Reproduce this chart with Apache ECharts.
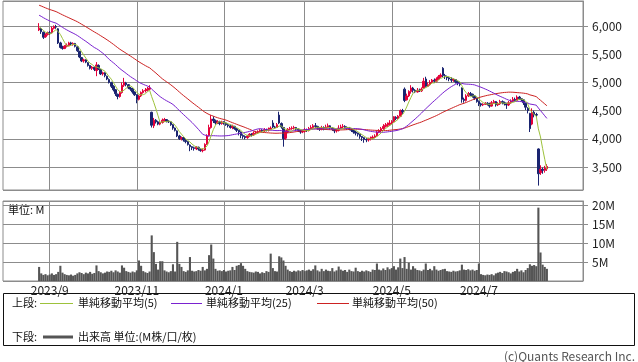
<!DOCTYPE html>
<html><head><meta charset="utf-8">
<script src="https://cdn.jsdelivr.net/npm/echarts@6/dist/echarts.min.js"></script>
<style>html,body{margin:0;padding:0;background:#fff}#c{width:638px;height:362px}</style>
</head><body><div id="c"></div>
<script>
// Japanese market holidays in the displayed span (categories are trading days)
const holidays = ['2023/08/11','2023/09/18','2023/10/09','2023/11/03','2023/11/23','2024/01/01','2024/01/02','2024/01/03','2024/01/08','2024/02/12','2024/02/23','2024/03/20','2024/04/29','2024/05/03','2024/05/06','2024/07/15','2024/08/12'];
const padBefore = 17, padAfter = 17;
const tickLabels = ['2023/9','2023/11','2024/1','2024/3','2024/5','2024/7'];
const priceTicks = [3500,4000,4500,5000,5500,6000];

// closes before the first candle (only feed the moving averages)
const preClose = [6600,6620,6650,6630,6580,6560,6600,6640,6620,6590,6550,6520,6540,6570,6560,6530,6500,6480,6510,6530,6500,6470,6450,6430,6400,
6400,6380,6360,6350,6340,6320,6300,6280,6280,6260,6240,6220,6200,6200,6180,6150,6130,6100,6080,6060,6030,6000,5980,5960];

const open = [5930,5950,5890,5810,5850,5880,5880,5960,5990,5950,
5700,5630,5600,5640,5650,5700,5670,5690,5630,5550,
5440,5380,5400,5350,5300,5250,5270,5210,5300,5230,
5150,5170,5110,5050,5000,4930,4870,4790,4750,4820,
4950,4990,4960,4900,4880,4830,4780,4700,4760,4820,
4850,4860,4880,4470,4230,4330,4300,4260,4290,4330,
4340,4310,4300,4250,4190,4140,4050,4000,4020,3970,
3950,3890,3860,3840,3820,3850,3810,3790,3800,3900,
4060,4200,4350,4320,4280,4300,4270,4300,4280,4250,
4230,4200,4220,4180,4150,4120,4060,4040,4020,4050,
4080,4070,4100,4110,4130,4150,4140,4160,4150,4170,
4280,4210,4200,4420,4270,4200,4010,4120,4170,4180,
4190,4200,4170,4150,4120,4130,4160,4150,4180,4200,
4230,4220,4190,4170,4200,4180,4210,4230,4190,4170,
4140,4150,4190,4210,4220,4200,4190,4180,4150,4120,
4100,4080,4040,4020,3990,3980,4000,4010,4030,4050,
4120,4140,4180,4220,4240,4250,4280,4300,4380,4360,
4400,4500,4880,4690,4760,4840,4900,4860,4830,4860,
4850,4900,5060,4930,4960,5000,5040,5020,5060,5100,
5250,5120,5100,5080,5060,5040,5050,5010,4990,4900,
4700,4680,4760,4800,4790,4760,4720,4660,4620,4600,
4610,4630,4620,4580,4640,4660,4600,4620,4660,4640,
4620,4600,4640,4670,4700,4680,4740,4710,4690,4630,
4540,4450,4260,4470,4430,3820,3400,3460,3440,3470];

const close = [5960,5900,5800,5840,5880,5870,5960,5990,5980,5700,
5620,5600,5640,5660,5700,5680,5690,5640,5560,5450,
5380,5400,5360,5300,5250,5270,5230,5310,5240,5150,
5170,5120,5060,5000,4930,4870,4800,4750,4820,4950,
5000,4960,4900,4880,4830,4780,4700,4760,4820,4850,
4860,4880,4900,4240,4330,4300,4260,4290,4330,4340,
4310,4300,4250,4190,4150,4050,4000,4020,3980,3950,
3900,3860,3840,3830,3850,3820,3790,3800,3900,4050,
4200,4350,4320,4280,4300,4270,4300,4280,4250,4230,
4200,4220,4180,4150,4120,4060,4040,4020,4050,4080,
4070,4100,4110,4130,4150,4140,4160,4150,4170,4190,
4210,4200,4250,4280,4210,4000,4120,4170,4180,4190,
4200,4170,4150,4120,4130,4160,4150,4180,4200,4230,
4220,4190,4170,4200,4180,4210,4230,4190,4170,4140,
4150,4190,4210,4220,4200,4190,4180,4150,4120,4100,
4080,4040,4020,3990,3980,4000,4010,4030,4050,4120,
4140,4180,4220,4240,4250,4280,4300,4390,4360,4400,
4500,4480,4680,4760,4840,4900,4860,4830,4860,4850,
4880,5020,4930,4960,5000,5040,5020,5060,5100,5130,
5120,5100,5080,5060,5040,5050,5010,4990,4960,4700,
4680,4760,4800,4790,4760,4720,4660,4620,4600,4610,
4630,4620,4580,4640,4660,4600,4620,4660,4640,4620,
4600,4640,4670,4700,4680,4740,4710,4690,4640,4560,
4500,4180,4470,4430,4420,3380,3460,3440,3480,3510];

const low = [5910,5860,5770,5790,5830,5840,5870,5940,5950,5680,
5600,5580,5590,5620,5640,5660,5650,5620,5540,5430,
5360,5350,5340,5280,5230,5220,5200,5110,5220,5130,
5120,5090,5040,4980,4900,4840,4760,4700,4730,4800,
4920,4930,4880,4850,4800,4760,4630,4680,4740,4800,
4820,4840,4860,4200,4190,4270,4240,4240,4270,4300,
4290,4280,4230,4160,4130,4030,3980,3970,3950,3920,
3880,3780,3800,3790,3800,3790,3770,3760,3790,3890,
4040,4180,4280,4250,4260,4240,4250,4250,4230,4200,
4180,4170,4160,4120,4060,4010,4000,3990,4000,4030,
4040,4050,4080,4090,4110,4120,4120,4130,4130,4150,
4190,4180,4190,4260,4180,3860,3980,4100,4150,4160,
4170,4140,4120,4090,4100,4110,4120,4130,4160,4180,
4190,4160,4140,4150,4150,4160,4190,4160,4140,4100,
4110,4130,4170,4190,4170,4160,4150,4120,4090,4060,
4040,4000,3960,3930,3940,3950,3970,3990,4010,4040,
4100,4120,4160,4200,4210,4230,4260,4290,4330,4340,
4390,4440,4650,4680,4740,4800,4820,4810,4820,4830,
4830,4890,4910,4920,4940,4980,4990,5000,5040,5080,
5090,5060,5040,5020,5000,5010,4980,4950,4930,4640,
4640,4660,4740,4760,4730,4690,4640,4580,4570,4580,
4600,4590,4550,4570,4620,4570,4580,4600,4610,4590,
4530,4580,4620,4650,4660,4670,4690,4660,4600,4510,
4450,4120,4240,4380,4390,3170,3360,3380,3400,3430];

const high = [6050,5970,5900,5870,5900,5910,5990,6010,6020,5960,
5720,5650,5660,5690,5720,5720,5710,5700,5640,5560,
5450,5420,5410,5360,5310,5290,5280,5360,5320,5240,
5190,5180,5120,5070,5010,4950,4880,4800,4850,5000,
5080,5010,4970,4920,4900,4840,4790,4780,4840,4880,
4900,4920,4950,4480,4370,4350,4320,4310,4360,4370,
4350,4330,4310,4260,4200,4150,4070,4040,4030,3990,
3960,3900,3870,3860,3870,3860,3830,3830,3920,4080,
4250,4420,4400,4340,4330,4320,4320,4310,4290,4270,
4250,4250,4230,4190,4160,4130,4080,4060,4070,4100,
4100,4130,4140,4150,4170,4170,4190,4180,4200,4220,
4330,4230,4280,4480,4290,4210,4150,4190,4210,4220,
4230,4210,4180,4160,4160,4190,4180,4210,4240,4260,
4280,4230,4200,4230,4220,4250,4270,4240,4200,4180,
4180,4240,4250,4260,4240,4220,4210,4190,4170,4140,
4110,4090,4050,4030,4010,4020,4040,4060,4080,4150,
4170,4210,4260,4280,4290,4330,4330,4400,4400,4420,
4520,4530,4910,4800,4860,4950,4920,4880,4900,4890,
4910,5080,5100,5000,5040,5060,5070,5090,5130,5160,
5270,5150,5120,5100,5090,5070,5060,5030,5010,4910,
4730,4790,4830,4830,4800,4770,4730,4680,4640,4630,
4650,4650,4640,4670,4690,4670,4650,4690,4680,4660,
4640,4670,4700,4740,4730,4770,4760,4720,4700,4640,
4560,4460,4540,4500,4460,3830,3530,3490,3520,3550];

// volume in millions of shares
const volume = [3.7,2.0,1.6,1.8,1.5,1.7,2.0,1.6,1.8,2.4,
4.0,2.2,1.8,1.6,1.5,1.7,1.4,1.6,2.0,2.3,
2.1,1.8,2.2,2.0,2.4,1.9,2.1,4.1,2.6,2.3,
2.0,2.2,2.5,2.4,2.7,2.3,2.8,2.5,2.2,4.1,
3.5,2.6,2.4,2.2,2.5,2.3,2.8,5.4,4.0,2.6,
2.3,2.1,2.5,12.0,7.6,4.5,3.0,5.2,5.2,2.8,
2.5,2.3,2.6,4.4,2.5,10.3,4.5,3.7,2.6,2.4,
2.8,6.3,2.7,2.5,2.6,2.9,2.7,3.7,2.8,3.2,
6.8,9.6,5.9,3.2,2.7,2.8,2.6,2.9,2.5,2.7,
2.8,3.7,2.9,4.0,4.2,4.7,4.0,3.2,2.6,2.4,
2.3,2.2,2.5,2.4,2.0,2.3,2.1,2.6,2.4,7.2,
3.4,2.6,2.5,6.5,6.2,5.4,4.0,3.0,2.6,2.4,
2.7,2.5,2.8,2.6,2.9,2.6,2.8,3.0,2.7,3.1,
4.1,2.8,2.5,3.2,2.6,3.0,2.7,2.6,3.4,2.5,
2.8,3.8,3.0,2.7,2.9,2.4,3.0,2.6,2.5,3.5,
2.6,2.4,2.7,2.5,2.8,2.6,2.4,3.0,2.9,4.6,
3.0,2.8,3.3,2.9,3.6,3.1,3.4,3.9,3.0,3.6,
5.9,3.4,6.3,3.2,4.8,3.0,3.9,3.3,2.9,2.8,
2.6,3.0,4.6,2.9,3.2,2.8,3.9,3.0,2.7,2.9,
3.1,3.2,2.6,2.5,2.4,2.7,2.5,2.6,2.8,4.3,
3.0,2.9,3.1,2.8,3.0,2.7,2.9,4.6,1.8,1.6,
1.5,1.7,1.6,1.8,1.5,2.0,2.2,2.4,2.1,2.6,
2.5,2.3,2.0,2.4,2.6,3.2,2.5,2.8,2.3,2.9,
3.4,4.4,4.0,4.2,3.9,19.3,7.5,4.3,3.7,3.2];

const COL = {up:'#e4003a', down:'#1a2470', ma5:'#9dc23b', ma25:'#7a22d0', ma50:'#cc2222', vol:'#555555', grid:'#8c8c8c', text:'#222'};
const FONT = '"Noto Sans CJK JP","Noto Sans",sans-serif';

function pad2(n){return (n<10?'0':'')+n;}
const total = padBefore + close.length + padAfter;
const dates = [];
(function(){
  const d = new Date(2023,7,1);
  while(dates.length < total){
    const s = d.getFullYear()+'/'+pad2(d.getMonth()+1)+'/'+pad2(d.getDate());
    const w = d.getDay();
    if(w!==0 && w!==6 && holidays.indexOf(s)<0) dates.push(s);
    d.setDate(d.getDate()+1);
  }
})();
const tickMap = {};
dates.forEach(function(s,i){
  if(i===0) return;
  const p = dates[i-1].split('/'), c = s.split('/');
  if(p[1]!==c[1]){
    const lab = c[0]+'/'+(+c[1]);
    if(tickLabels.indexOf(lab)>=0) tickMap[i]=lab;
  }
});
function isTick(i){return tickMap[i]!==undefined;}

function padded(arr){
  const out=[];
  for(let i=0;i<padBefore;i++) out.push('-');
  arr.forEach(function(v){out.push(v);});
  for(let i=0;i<padAfter;i++) out.push('-');
  return out;
}
const allClose = preClose.concat(close);
function ma(n){
  const r=[];
  for(let i=0;i<close.length;i++){
    const k=i+preClose.length; let s=0;
    for(let j=k-n+1;j<=k;j++) s+=allClose[j];
    r.push(Math.round(s/n*10)/10);
  }
  return padded(r);
}
const candles = padded(close.map(function(c,i){return [open[i],c,low[i],high[i]];}));
const vols = padded(volume);

const chart = echarts.init(document.getElementById('c'), null, {renderer:'canvas'});
const xBase = {
  type:'category', data:dates, boundaryGap:false,
  axisLine:{show:false}, axisTick:{show:false},
  splitLine:{show:true, interval:function(i){return isTick(i);}, lineStyle:{color:COL.grid,width:1}}
};
chart.setOption({
  animation:false,
  textStyle:{fontFamily:FONT},
  grid:[
    {left:3, right:55, top:1, height:189, show:true, borderColor:COL.grid, borderWidth:1, backgroundColor:'#fff'},
    {left:3, right:55, top:201, height:80, show:true, borderColor:COL.grid, borderWidth:1, backgroundColor:'#fff'}
  ],
  xAxis:[
    Object.assign({}, xBase, {gridIndex:0, axisLabel:{show:false}}),
    Object.assign({}, xBase, {gridIndex:1, axisLabel:{show:true, interval:function(i){return isTick(i);}, formatter:function(v,i){return tickMap[i]||'';}, color:COL.text, fontSize:12, fontFamily:FONT, margin:3}})
  ],
  yAxis:[
    {gridIndex:0, type:'value', position:'right', min:3092, max:6443, scale:true,
     axisLine:{show:true, lineStyle:{color:COL.grid}}, axisTick:{show:true, length:5, lineStyle:{color:COL.grid}},
     splitLine:{show:true, lineStyle:{color:COL.grid}},
     axisLabel:{showMinLabel:false, showMaxLabel:false, color:COL.text, fontSize:12, fontFamily:FONT, margin:9,
       formatter:function(v){return priceTicks.indexOf(v)>=0 ? v.toLocaleString('en-US') : '';}}},
    {gridIndex:1, type:'value', position:'right', min:0, max:21.05,
     axisLine:{show:true, lineStyle:{color:COL.grid}}, axisTick:{show:true, length:5, lineStyle:{color:COL.grid}},
     splitLine:{show:true, lineStyle:{color:COL.grid}},
     axisLabel:{showMinLabel:false, showMaxLabel:false, color:COL.text, fontSize:12, fontFamily:FONT, margin:9,
       formatter:function(v){return v>0 && v%5===0 ? v+'M' : '';}}}
  ],
  series:[
    {type:'candlestick', xAxisIndex:0, yAxisIndex:0, data:candles, barWidth:2,
     itemStyle:{color:COL.up, color0:COL.down, borderColor:COL.up, borderColor0:COL.down, borderWidth:1}},
    {type:'line', xAxisIndex:0, yAxisIndex:0, data:ma(50), showSymbol:false, symbol:'none', lineStyle:{color:COL.ma50, width:1}},
    {type:'line', xAxisIndex:0, yAxisIndex:0, data:ma(25), showSymbol:false, symbol:'none', lineStyle:{color:COL.ma25, width:1}},
    {type:'line', xAxisIndex:0, yAxisIndex:0, data:ma(5), showSymbol:false, symbol:'none', lineStyle:{color:COL.ma5, width:1}},
    {type:'bar', xAxisIndex:1, yAxisIndex:1, data:vols, barWidth:2.1, itemStyle:{color:COL.vol}}
  ],
  graphic:[
    {type:'text', left:8, top:204, style:{text:'単位: M', fill:'#111', font:'11px '+FONT}},
    {type:'rect', shape:{x:3.5, y:293.5, width:631, height:52}, style:{fill:'#fff', stroke:'#111', lineWidth:1}},
    {type:'text', x:12, y:303, style:{text:'上段:', fill:'#111', font:'11px '+FONT, verticalAlign:'middle'}},
    {type:'line', shape:{x1:40, y1:303.5, x2:73, y2:303.5}, style:{stroke:COL.ma5, lineWidth:1}},
    {type:'text', x:78, y:303, style:{text:'単純移動平均(5)', fill:'#111', font:'11px '+FONT, verticalAlign:'middle'}},
    {type:'line', shape:{x1:171, y1:303.5, x2:202, y2:303.5}, style:{stroke:COL.ma25, lineWidth:1}},
    {type:'text', x:206, y:303, style:{text:'単純移動平均(25)', fill:'#111', font:'11px '+FONT, verticalAlign:'middle'}},
    {type:'line', shape:{x1:317, y1:303.5, x2:349, y2:303.5}, style:{stroke:COL.ma50, lineWidth:1}},
    {type:'text', x:352, y:303, style:{text:'単純移動平均(50)', fill:'#111', font:'11px '+FONT, verticalAlign:'middle'}},
    {type:'text', x:12, y:337, style:{text:'下段:', fill:'#111', font:'11px '+FONT, verticalAlign:'middle'}},
    {type:'line', shape:{x1:43, y1:337, x2:73, y2:337}, style:{stroke:COL.vol, lineWidth:3}},
    {type:'text', x:78, y:337, style:{text:'出来高 単位:(M株/口/枚)', fill:'#111', font:'11px '+FONT, verticalAlign:'middle'}},
    {type:'text', x:635, y:356, style:{text:'(c)Quants Research Inc.', fill:'#555', font:'12px '+FONT, align:'right', verticalAlign:'middle'}}
  ]
});
</script></body></html>
